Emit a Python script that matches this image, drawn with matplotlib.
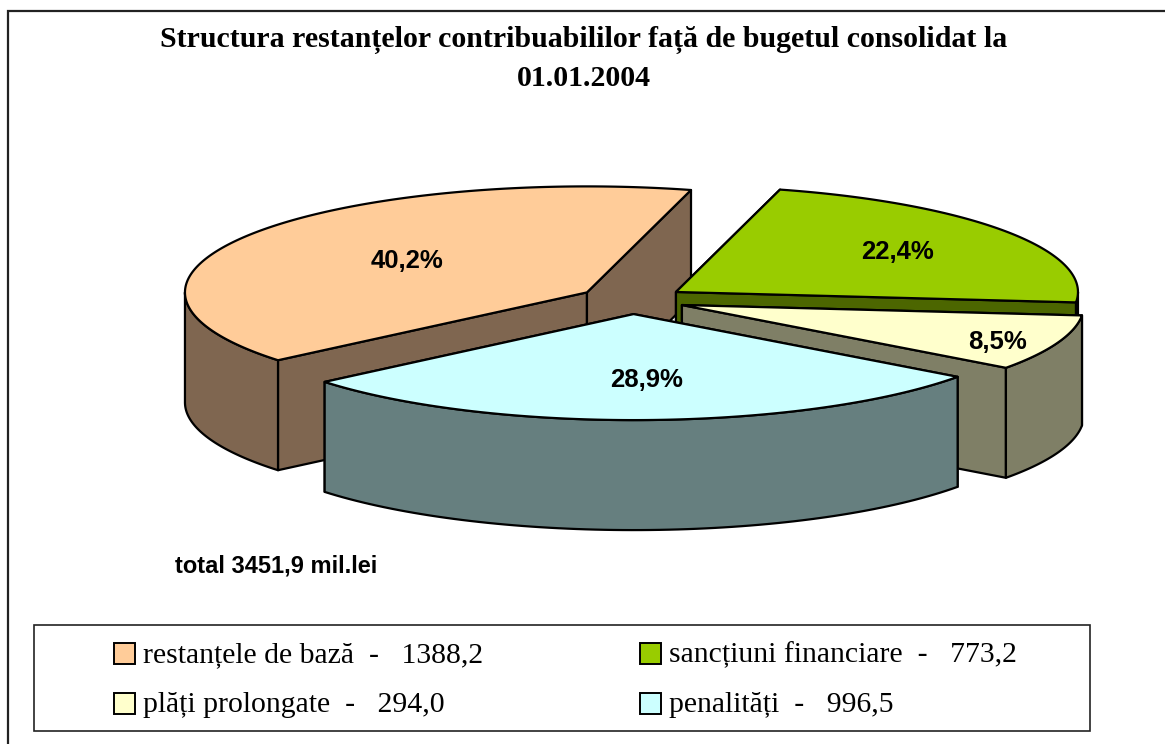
import numpy as np
import matplotlib
matplotlib.use('Agg')
import matplotlib.pyplot as plt
from matplotlib.patches import Polygon, Rectangle

title = 'Structura restanțelor contribuabililor față de bugetul consolidat la\n01.01.2004'
total_label = 'total 3451,9 mil.lei'

# drawing order, back to front
names = ['restanțele de bază', 'sancțiuni financiare', 'plăți prolongate', 'penalități']
values = [1388.2, 773.2, 294.0, 996.5]
tops = ['#FFCC99', '#99CC00', '#FFFFCC', '#CCFFFF']
sides = ['#7F6650', '#4C6600', '#7F7F66', '#667F7F']
label_r = [0.53, 0.67, 0.84, 0.62]
label_dx = [0, 0, 0, 5]
label_dy = [-1, 0, 5, 0]

start_angle = 75.0   # going clockwise from here
cx, cy = 632, 300
rx, ry = 402, 106
depth = 110
explode = 0.133

W, H = 1165, 744
fig = plt.figure(figsize=(W / 100, H / 100), dpi=100)
ax = fig.add_axes([0, 0, 1, 1])
ax.set_xlim(0, W)
ax.set_ylim(H, 0)
ax.axis('off')

# frame, only left and top show
ax.plot([8, 8, W], [H, 11, 11], color='#222222', lw=1.6, solid_joinstyle='miter')

total = sum(values)


def pt(x0, y0, a):
    a = np.radians(a)
    return x0 + rx * np.cos(a), y0 - ry * np.sin(a)


# restante runs ccw from 75, the rest run cw from 75
sweeps = [v / total * 360 for v in values]
spans = [
    (start_angle, start_angle + sweeps[0]),
    (start_angle - sweeps[1], start_angle),
    (start_angle - sweeps[1] - sweeps[2], start_angle - sweeps[1]),
    (start_angle - sweeps[1] - sweeps[2] - sweeps[3], start_angle - sweeps[1] - sweeps[2]),
]

for i in range(len(values)):
    a0, a1 = spans[i]
    mid = np.radians((a0 + a1) / 2)
    x0 = cx + explode * rx * np.cos(mid)
    y0 = cy - explode * ry * np.sin(mid)
    ec = dict(edgecolor='black', lw=1.6, joinstyle='round')

    # radial faces, far edge first
    for a in (a1, a0):
        px, py = pt(x0, y0, a)
        ax.add_patch(Polygon([(x0, y0), (px, py), (px, py + depth), (x0, y0 + depth)],
                             facecolor=sides[i], **ec))

    # outer wall, only the front half of the ellipse shows
    for lo, hi in [(a0, a1), (a0 + 360, a1 + 360), (a0 - 360, a1 - 360)]:
        lo, hi = max(lo, 180), min(hi, 360)
        if hi > lo:
            t = np.linspace(lo, hi, 80)
            xs, ys = pt(x0, y0, t)
            wall = list(zip(xs, ys)) + list(zip(xs[::-1], ys[::-1] + depth))
            ax.add_patch(Polygon(wall, facecolor=sides[i], **ec))

    # top
    t = np.linspace(a0, a1, 160)
    xs, ys = pt(x0, y0, t)
    ax.add_patch(Polygon([(x0, y0)] + list(zip(xs, ys)), facecolor=tops[i], **ec))

# percent labels above everything
for i in range(len(values)):
    a0, a1 = spans[i]
    mid = np.radians((a0 + a1) / 2)
    r = explode + label_r[i]
    lab = f'{values[i] / total * 100:.1f}%'.replace('.', ',')
    ax.text(cx + r * rx * np.cos(mid) + label_dx[i], cy - r * ry * np.sin(mid) + label_dy[i], lab,
            family='Liberation Sans', weight='bold', fontsize=18.5,
            ha='center', va='center', color='black')

ax.text(584, 59, title, family='Liberation Serif', weight='bold', fontsize=21.5,
        ha='center', va='center', linespacing=1.52)
ax.text(175, 566, total_label, family='Liberation Sans', weight='bold', fontsize=17,
        ha='left', va='center')

# legend
ax.add_patch(Rectangle((34, 625), 1056, 106, facecolor='white', edgecolor='#222222', lw=1.2))
leg_order = [0, 1, 2, 3]
leg_x = [114, 640, 114, 640]
leg_y = [653, 653, 703, 703]
for k, i in enumerate(leg_order):
    ax.add_patch(Rectangle((leg_x[k], leg_y[k] - 10), 21, 21, facecolor=tops[i],
                           edgecolor='black', lw=1.4))
    val = f'{values[i]:.1f}'.replace('.', ',')
    ax.text(leg_x[k] + 29, leg_y[k] + 2, f'{names[i]}  -   {val}', family='Liberation Serif',
            fontsize=21.4, ha='left', va='center', color='black')

fig.savefig('out.png', dpi=100)
